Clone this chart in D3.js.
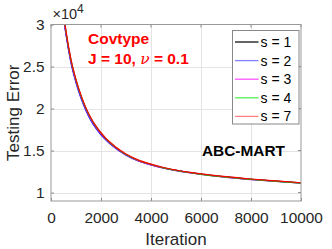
<!DOCTYPE html>
<html>
<head>
<meta charset="utf-8">
<script src="https://cdn.jsdelivr.net/npm/d3@7"></script>
<style>
  body { margin: 0; background: #fff; }
  svg { display: block; font-family: "Liberation Sans", Arial, sans-serif; }
</style>
</head>
<body>
<div id="js-chart"></div>
<script>
// iterations and testing error (x 1e4)
const iterations = [300, 400, 600, 800, 1000, 1200, 1400, 1600, 1800, 2000, 2200, 2400, 2600, 2800, 3000, 3500, 4000, 4500, 5000, 5500, 6000, 7000, 8000, 9000, 10000];
const errS1 = [3.65, 3.35, 2.90, 2.565, 2.33, 2.145, 1.995, 1.875, 1.78, 1.703, 1.638, 1.582, 1.533, 1.49, 1.452, 1.38, 1.333, 1.295, 1.265, 1.24, 1.219, 1.186, 1.159, 1.136, 1.115];
const errS2 = [3.62, 3.32, 2.875, 2.54, 2.307, 2.123, 1.975, 1.856, 1.763, 1.688, 1.625, 1.571, 1.524, 1.482, 1.446, 1.376, 1.33, 1.293, 1.264, 1.239, 1.218, 1.185, 1.158, 1.135, 1.114];
const errS3 = [3.64, 3.34, 2.89, 2.558, 2.324, 2.14, 1.99, 1.871, 1.777, 1.70, 1.635, 1.579, 1.53, 1.487, 1.449, 1.377, 1.33, 1.292, 1.262, 1.236, 1.215, 1.182, 1.155, 1.132, 1.111];
const errS4 = [3.66, 3.36, 2.91, 2.572, 2.336, 2.15, 2.0, 1.879, 1.784, 1.707, 1.641, 1.585, 1.535, 1.492, 1.454, 1.382, 1.334, 1.295, 1.265, 1.239, 1.217, 1.184, 1.157, 1.134, 1.113];
const errS7 = [3.68, 3.38, 2.925, 2.585, 2.347, 2.16, 2.008, 1.887, 1.79, 1.712, 1.646, 1.59, 1.54, 1.497, 1.458, 1.386, 1.338, 1.299, 1.269, 1.243, 1.222, 1.189, 1.162, 1.139, 1.117];

const seriesNames = ['s = 1', 's = 2', 's = 3', 's = 4', 's = 7'];
const seriesValues = [errS1, errS2, errS3, errS4, errS7];
const lineColors = ['#000000', '#0000ff', '#ff00ff', '#00cc00', '#ff0000'];
const legendColors = ['#111111', '#8080ff', '#ff55ff', '#55ee55', '#ff8080'];

const xTicks = [0, 2000, 4000, 6000, 8000, 10000];
const yTicks = [1, 1.5, 2, 2.5, 3];

const width = 332, height = 249;
const margin = { left: 51, right: 31, top: 24.5, bottom: 48 };

const svg = d3.select('#js-chart')
  .append('svg')
  .attr('width', width)
  .attr('height', height);

const x = d3.scaleLinear().domain([0, 10000]).range([margin.left, width - margin.right]);
const y = d3.scaleLinear().domain([0.9, 3]).range([height - margin.bottom, margin.top]);

const pLeft = x.range()[0], pRight = x.range()[1];
const pTop = y.range()[1], pBottom = y.range()[0];

// grid
const grid = svg.append('g').attr('stroke', '#e4e4e4').attr('stroke-width', 1);
grid.selectAll('.gx').data(xTicks.slice(1, -1)).enter().append('line')
  .attr('x1', d => Math.round(x(d)) + 0.5).attr('x2', d => Math.round(x(d)) + 0.5)
  .attr('y1', pTop).attr('y2', pBottom);
grid.selectAll('.gy').data(yTicks.filter(d => d < 3)).enter().append('line')
  .attr('y1', d => Math.round(y(d)) + 0.5).attr('y2', d => Math.round(y(d)) + 0.5)
  .attr('x1', pLeft).attr('x2', pRight);

// curves
svg.append('clipPath').attr('id', 'clip')
  .append('rect').attr('x', pLeft).attr('y', pTop).attr('width', pRight - pLeft).attr('height', pBottom - pTop);

const line = d3.line()
  .x((d, i) => x(iterations[i]))
  .y(d => y(d))
  .curve(d3.curveMonotoneX);

svg.append('g').attr('clip-path', 'url(#clip)')
  .selectAll('path').data(seriesValues).enter().append('path')
  .attr('d', d => line(d))
  .attr('fill', 'none')
  .attr('stroke', (d, i) => lineColors[i])
  .attr('stroke-width', 1.2);

// axes
const xAxis = svg.append('g')
  .attr('transform', `translate(0,${pBottom})`)
  .call(d3.axisBottom(x).tickValues(xTicks).tickSizeInner(-3).tickSizeOuter(0).tickPadding(11).tickFormat(d3.format('d')));
const yAxis = svg.append('g')
  .attr('transform', `translate(${pLeft},0)`)
  .call(d3.axisLeft(y).tickValues(yTicks).tickSizeInner(-3).tickSizeOuter(0).tickPadding(6.5).tickFormat(d => d));

[xAxis, yAxis].forEach(a => {
  a.select('.domain').remove();
  a.selectAll('line').attr('stroke', '#888');
  a.selectAll('text').attr('fill', '#262626').attr('font-size', 15.4)
    .attr('font-family', '"Liberation Sans", Arial, sans-serif');
});

// top and right ticks
svg.append('g').selectAll('line').data(xTicks).enter().append('line')
  .attr('x1', d => x(d)).attr('x2', d => x(d)).attr('y1', pTop).attr('y2', pTop + 3)
  .attr('stroke', '#888');
svg.append('g').selectAll('line').data(yTicks).enter().append('line')
  .attr('y1', d => y(d)).attr('y2', d => y(d)).attr('x1', pRight).attr('x2', pRight - 3)
  .attr('stroke', '#888');

// box
svg.append('rect')
  .attr('x', pLeft).attr('y', pTop).attr('width', pRight - pLeft).attr('height', pBottom - pTop)
  .attr('fill', 'none').attr('stroke', '#999').attr('stroke-width', 1);

// exponent
const expo = svg.append('text').attr('x', 52.5).attr('y', 18.5).attr('fill', '#262626').attr('font-size', 14.5);
expo.append('tspan').text('\u00d710');
expo.append('tspan').attr('dy', -6).attr('font-size', 12).text('4');

// axis labels
svg.append('text')
  .attr('x', (pLeft + pRight) / 2).attr('y', 244.5)
  .attr('text-anchor', 'middle').attr('fill', '#262626').attr('font-size', 17)
  .text('Iteration');
svg.append('text')
  .attr('transform', `translate(19,${(pTop + pBottom) / 2}) rotate(-90)`)
  .attr('text-anchor', 'middle').attr('fill', '#262626').attr('font-size', 17)
  .text('Testing Error');

// annotations
svg.append('text').attr('x', 88).attr('y', 43.5)
  .attr('fill', '#ff0000').attr('font-weight', 'bold').attr('font-size', 15.5)
  .text('Covtype');
const sub = svg.append('text').attr('x', 88).attr('y', 64)
  .attr('fill', '#ff0000').attr('font-weight', 'bold').attr('font-size', 15.5);
sub.append('tspan').text('J = 10, ');
sub.append('tspan').attr('font-style', 'italic').attr('font-family', '"DejaVu Serif", serif').attr('font-weight', 'normal').text('\u03bd');
sub.append('tspan').text(' = 0.1');

svg.append('text').attr('x', 202).attr('y', 156)
  .attr('fill', '#000').attr('font-weight', 'bold').attr('font-size', 15.4)
  .text('ABC-MART');

// legend
const legend = svg.append('g');
legend.append('rect')
  .attr('x', 232.5).attr('y', 30.5).attr('width', 66.5).attr('height', 93.5)
  .attr('fill', '#fff').attr('stroke', '#888').attr('stroke-width', 1);
const items = legend.selectAll('.item').data(seriesNames).enter().append('g')
  .attr('transform', (d, i) => `translate(0,${42 + i * 18.6})`);
items.append('line')
  .attr('x1', 235).attr('x2', 258.5).attr('y1', 0).attr('y2', 0)
  .attr('stroke', (d, i) => legendColors[i]).attr('stroke-width', 1.3);
items.append('text')
  .attr('x', 260.5).attr('y', 5)
  .attr('fill', '#000').attr('font-size', 14)
  .text(d => d);
</script>
</body>
</html>
